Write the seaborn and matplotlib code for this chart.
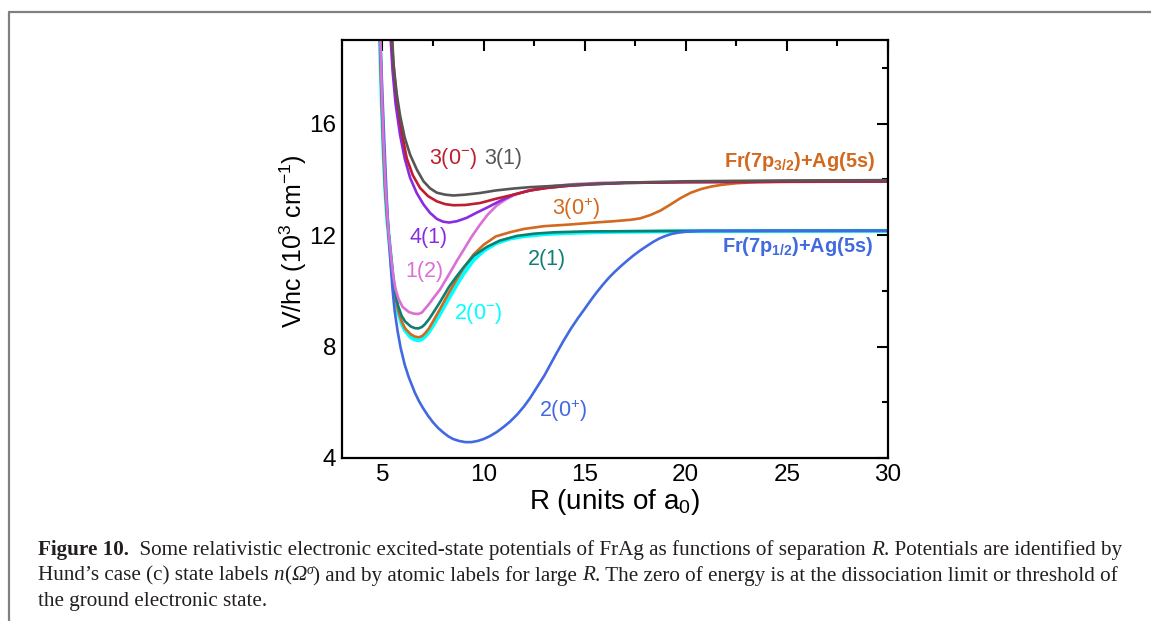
import matplotlib
matplotlib.use("Agg")
import matplotlib.pyplot as plt
from matplotlib.lines import Line2D
from matplotlib.ticker import MultipleLocator
import seaborn as sns
import pandas as pd

# ---------------- data (R in a0, V/hc in 10^3 cm^-1) ----------------
R_2p0 = [4.85, 4.90, 5.00, 5.10, 5.20, 5.30, 5.40, 5.50, 5.60, 5.75, 5.90, 6.10, 6.30, 6.60, 6.80, 7.00,
         7.25, 7.50, 7.75, 8.00, 8.25, 8.50, 8.80, 9.10, 9.40, 9.70, 10.00, 10.30, 10.65, 11.00, 11.30,
         11.65, 12.00, 12.30, 12.65, 13.00, 13.30, 13.60, 13.95, 14.30, 14.65, 15.00, 15.30, 15.60, 15.90,
         16.20, 16.50, 16.80, 17.10, 17.40, 17.75, 18.10, 18.40, 18.70, 19.00, 19.30, 19.65, 20.00, 20.50,
         21.00, 23.00, 30.00]
V_2p0 = [20.0, 19.0, 17.0, 15.2, 13.5, 12.1, 11.0, 10.05, 9.3, 8.55, 7.95, 7.35, 6.9, 6.35, 6.05, 5.8,
         5.52, 5.28, 5.08, 4.92, 4.78, 4.68, 4.61, 4.57, 4.57, 4.61, 4.68, 4.78, 4.93, 5.12, 5.3,
         5.55, 5.85, 6.15, 6.55, 6.95, 7.35, 7.75, 8.2, 8.62, 9.0, 9.35, 9.66, 9.95, 10.22,
         10.47, 10.69, 10.89, 11.08, 11.26, 11.45, 11.62, 11.76, 11.88, 11.97, 12.04, 12.09, 12.12, 12.14,
         12.15, 12.15, 12.15]

R_2m0 = [4.84, 4.90, 4.97, 5.05, 5.13, 5.22, 5.30, 5.40, 5.53, 5.65, 5.78, 5.95, 6.12, 6.40, 6.60, 6.78,
         6.95, 7.10, 7.30, 7.50, 7.85, 8.30, 8.70, 9.00, 9.50, 10.00, 10.60, 11.30, 12.00, 13.00, 14.00,
         16.00, 20.00, 30.00]
V_2m0 = [20.0, 18.3, 16.6, 15.0, 13.7, 12.7, 12.05, 11.3, 10.4, 9.7, 9.2, 8.82, 8.57, 8.33, 8.25, 8.22,
         8.26, 8.35, 8.52, 8.75, 9.17, 9.75, 10.25, 10.6, 11.1, 11.43, 11.7, 11.87, 11.96, 12.03, 12.07,
         12.11, 12.14, 12.15]

R_3p0 = [4.84, 4.90, 4.97, 5.05, 5.13, 5.22, 5.30, 5.40, 5.53, 5.65, 5.78, 5.95, 6.12, 6.40, 6.60, 6.78,
         6.95, 7.10, 7.30, 7.50, 7.85, 8.30, 8.70, 9.00, 9.50, 10.00, 10.60, 11.30, 12.00, 13.00, 14.30,
         15.50, 16.50, 17.30, 17.75, 18.25, 18.75, 19.25, 19.75, 20.25, 20.75, 21.25, 21.75, 22.50, 23.50,
         25.00, 30.00]
V_3p0 = [20.0, 18.3, 16.6, 15.0, 13.7, 12.7, 12.05, 11.3, 10.42, 9.75, 9.28, 8.9, 8.65, 8.44, 8.36, 8.33,
         8.37, 8.47, 8.65, 8.9, 9.35, 9.95, 10.45, 10.8, 11.3, 11.65, 11.95, 12.1, 12.22, 12.32, 12.38,
         12.45, 12.5, 12.55, 12.6, 12.72, 12.88, 13.1, 13.33, 13.52, 13.65, 13.74, 13.8, 13.86, 13.9,
         13.92, 13.93]

R_21 = [4.85, 4.91, 4.98, 5.06, 5.14, 5.23, 5.31, 5.41, 5.53, 5.65, 5.78, 5.95, 6.12, 6.40, 6.60, 6.78,
        6.95, 7.10, 7.30, 7.50, 7.85, 8.30, 8.70, 9.00, 9.50, 10.15, 10.80, 11.65, 12.50, 13.50, 15.00,
        20.00, 30.00]
V_21 = [20.0, 18.3, 16.6, 15.0, 13.7, 12.7, 12.05, 11.32, 10.47, 9.85, 9.45, 9.1, 8.9, 8.72, 8.66, 8.65,
        8.7, 8.8, 8.98, 9.2, 9.6, 10.15, 10.55, 10.83, 11.25, 11.57, 11.8, 11.97, 12.05, 12.1, 12.13,
        12.15, 12.16]

R_12 = [4.86, 4.92, 4.99, 5.07, 5.15, 5.24, 5.31, 5.41, 5.53, 5.65, 5.80, 6.00, 6.30, 6.55, 6.78, 6.95,
        7.10, 7.30, 7.50, 7.85, 8.30, 8.70, 9.00, 9.40, 9.80, 10.20, 10.65, 11.10, 11.50, 12.10, 12.80,
        13.60, 14.50, 16.00, 20.00, 30.00]
V_12 = [20.0, 18.3, 16.6, 15.0, 13.7, 12.7, 12.05, 11.35, 10.55, 10.05, 9.7, 9.42, 9.24, 9.18, 9.17, 9.22,
        9.35, 9.52, 9.72, 10.05, 10.6, 11.1, 11.45, 11.93, 12.35, 12.73, 13.06, 13.28, 13.43, 13.58, 13.69,
        13.77, 13.83, 13.88, 13.91, 13.93]

R_41 = [5.36, 5.41, 5.50, 5.65, 5.87, 6.10, 6.37, 6.70, 7.03, 7.35, 7.69, 8.00, 8.30, 8.70, 9.17,
        9.65, 10.16, 10.80, 11.48, 12.30, 13.10, 14.20, 15.40, 17.00, 20.00, 30.00]
V_41 = [20.0, 19.0, 17.9, 16.7, 15.6, 14.75, 14.05, 13.5, 13.1, 12.8, 12.58, 12.48, 12.45, 12.5, 12.62,
        12.8, 12.98, 13.22, 13.45, 13.6, 13.69, 13.77, 13.82, 13.87, 13.9, 13.92]

R_3m0 = [5.40, 5.46, 5.58, 5.71, 5.95, 6.20, 6.50, 6.86, 7.25, 7.69, 8.10, 8.51, 9.10, 9.83, 10.60,
         11.48, 12.30, 13.10, 14.20, 15.40, 17.00, 20.00, 30.00]
V_3m0 = [20.0, 19.0, 17.8, 16.9, 15.7, 14.76, 14.15, 13.69, 13.4, 13.21, 13.11, 13.07, 13.08, 13.15, 13.3,
         13.45, 13.6, 13.69, 13.77, 13.83, 13.87, 13.9, 13.93]

R_31 = [5.43, 5.49, 5.54, 5.70, 5.87, 6.10, 6.37, 6.70, 7.03, 7.35, 7.69, 8.10, 8.51, 9.10, 9.83,
        10.60, 11.48, 12.30, 13.10, 14.30, 15.60, 17.00, 20.00, 25.00, 30.00]
V_31 = [20.0, 19.0, 18.2, 17.1, 16.3, 15.5, 14.88, 14.35, 13.93, 13.68, 13.52, 13.45, 13.42, 13.45, 13.51,
        13.6, 13.67, 13.72, 13.75, 13.8, 13.84, 13.88, 13.93, 13.96, 13.97]

state_names = ["2(0-)", "3(0+)", "2(1)", "2(0+)", "1(2)", "4(1)", "3(0-)", "3(1)"]
curves = {"2(0-)": (R_2m0, V_2m0), "3(0+)": (R_3p0, V_3p0), "2(1)": (R_21, V_21),
          "2(0+)": (R_2p0, V_2p0), "1(2)": (R_12, V_12), "4(1)": (R_41, V_41),
          "3(0-)": (R_3m0, V_3m0), "3(1)": (R_31, V_31)}
colors = {"2(0-)": "#00FFFF", "3(0+)": "#D2691E", "2(1)": "#0F7F73", "2(0+)": "#4169E1",
          "1(2)": "#DA70D6", "4(1)": "#8A2BE2", "3(0-)": "#BE1E2D", "3(1)": "#5A5555"}
widths = {"2(0-)": 2.8}

label_text = {"3(0-)": r"3(0$^{\mathregular{-}}$)", "3(1)": "3(1)", "4(1)": "4(1)", "1(2)": "1(2)",
              "2(0-)": r"2(0$^{\mathregular{-}}$)", "2(1)": "2(1)", "3(0+)": r"3(0$^{+}$)",
              "2(0+)": r"2(0$^{+}$)"}
label_pos = {"3(0-)": (8.5, 14.75), "3(1)": (10.95, 14.75), "4(1)": (7.3, 11.9), "1(2)": (7.1, 10.7),
             "2(0-)": (9.75, 9.2), "2(1)": (13.15, 11.12), "3(0+)": (14.6, 12.93), "2(0+)": (13.95, 5.68)}

xticks = [5, 10, 15, 20, 25, 30]
yticks = [4, 8, 12, 16]

# ---------------- style ----------------
sns.set_theme(style="white")
plt.rcParams["font.family"] = ["Liberation Sans", "DejaVu Sans"]
plt.rcParams["mathtext.fontset"] = "custom"
plt.rcParams["mathtext.rm"] = "Liberation Sans"
plt.rcParams["mathtext.it"] = "Liberation Sans:italic"
plt.rcParams["mathtext.bf"] = "Liberation Sans:bold"

fig = plt.figure(figsize=(11.51, 6.21), dpi=100)
fig.patch.set_facecolor("white")
ax = fig.add_axes([342 / 1151, 1 - 458 / 621, 546 / 1151, 418 / 621])
ax.set_facecolor("white")

rows = []
for name in state_names:
    r, v = curves[name]
    for a, b in zip(r, v):
        rows.append({"state": name, "R": a, "V": b})
df = pd.DataFrame(rows)

for name in state_names:
    sub = df[df["state"] == name]
    sns.lineplot(data=sub, x="R", y="V", ax=ax, color=colors[name], lw=widths.get(name, 1.9),
                 sort=False, estimator=None, legend=False)

for name, (lx, ly) in label_pos.items():
    ax.text(lx, ly, label_text[name], color=colors[name], fontsize=15.5, ha="center", va="center")

ax.text(29.35, 14.64, r"Fr(7p$_{\mathbf{3/2}}$)+Ag(5s)", color="#D2691E", fontsize=14.3,
        fontweight="bold", ha="right", va="center")
ax.text(29.25, 11.6, r"Fr(7p$_{\mathbf{1/2}}$)+Ag(5s)", color="#4169E1", fontsize=14.3,
        fontweight="bold", ha="right", va="center")

ax.set_xlim(3, 30)
ax.set_ylim(4, 19)
ax.set_xticks(xticks)
ax.set_yticks(yticks)
ax.xaxis.set_minor_locator(MultipleLocator(2.5))
ax.yaxis.set_minor_locator(MultipleLocator(2))
ax.tick_params(which="both", direction="in", top=True, right=True, color="black", width=1.5)
ax.tick_params(which="major", length=8, labelsize=17.5, pad=4)
ax.tick_params(which="minor", length=4.5)
for s in ax.spines.values():
    s.set_color("black")
    s.set_linewidth(1.6)
ax.set_xlabel(r"R (units of a$_{0}$)", fontsize=20, labelpad=1, color="black")
ax.set_ylabel(r"V/hc (10$^{3}$ cm$^{-1}$)", fontsize=18, color="black")
ax.yaxis.set_label_coords((309 - 342) / 546, 0.519)
ax.tick_params(colors="black")

# ---------------- page frame ----------------
fig.add_artist(Line2D([8.5 / 1151, 8.5 / 1151], [0, 1 - 11.5 / 621], transform=fig.transFigure,
                      color="#808080", lw=1.6))
fig.add_artist(Line2D([8.5 / 1151, 1], [1 - 11.5 / 621, 1 - 11.5 / 621], transform=fig.transFigure,
                      color="#808080", lw=1.6))

# ---------------- caption ----------------
renderer = fig.canvas.get_renderer()
W, H = 1151.0, 621.0
serif = ["Liberation Serif", "DejaVu Serif"]
cap_size = 15.2


def text_width(s, **kw):
    t1 = fig.text(0, 0, "|" + s + "|", **kw)
    t2 = fig.text(0, 0, "||", **kw)
    w = t1.get_window_extent(renderer).width - t2.get_window_extent(renderer).width
    t1.remove()
    t2.remove()
    return w


def draw_line(x_px, base_px, pieces):
    x = x_px
    for s, style, weight, size, dy in pieces:
        kw = dict(family=serif, style=style, weight=weight, fontsize=size, color="#231F20")
        fig.text(x / W, 1 - (base_px - dy) / H, s, va="baseline", ha="left", **kw)
        x += text_width(s, **kw)


N, I, B = "normal", "italic", "bold"
draw_line(38, 555, [("Figure 10.", N, B, cap_size, 0),
                    ("  Some relativistic electronic excited-state potentials of FrAg as functions of separation ", N, N, cap_size, 0),
                    ("R", I, N, cap_size, 0),
                    (". Potentials are identified by", N, N, cap_size, 0)])
draw_line(38, 580.5, [("Hund\u2019s case (c) state labels ", N, N, cap_size, 0),
                      ("n", I, N, cap_size, 0),
                      ("(", N, N, cap_size, 0),
                      ("\u03A9", I, N, cap_size, 0),
                      ("\u03C3", I, N, cap_size * 0.65, 7),
                      (") and by atomic labels for large ", N, N, cap_size, 0),
                      ("R", I, N, cap_size, 0),
                      (". The zero of energy is at the dissociation limit or threshold of", N, N, cap_size, 0)])
draw_line(38, 606, [("the ground electronic state.", N, N, cap_size, 0)])

fig.savefig("out.png", dpi=100, facecolor="white")
